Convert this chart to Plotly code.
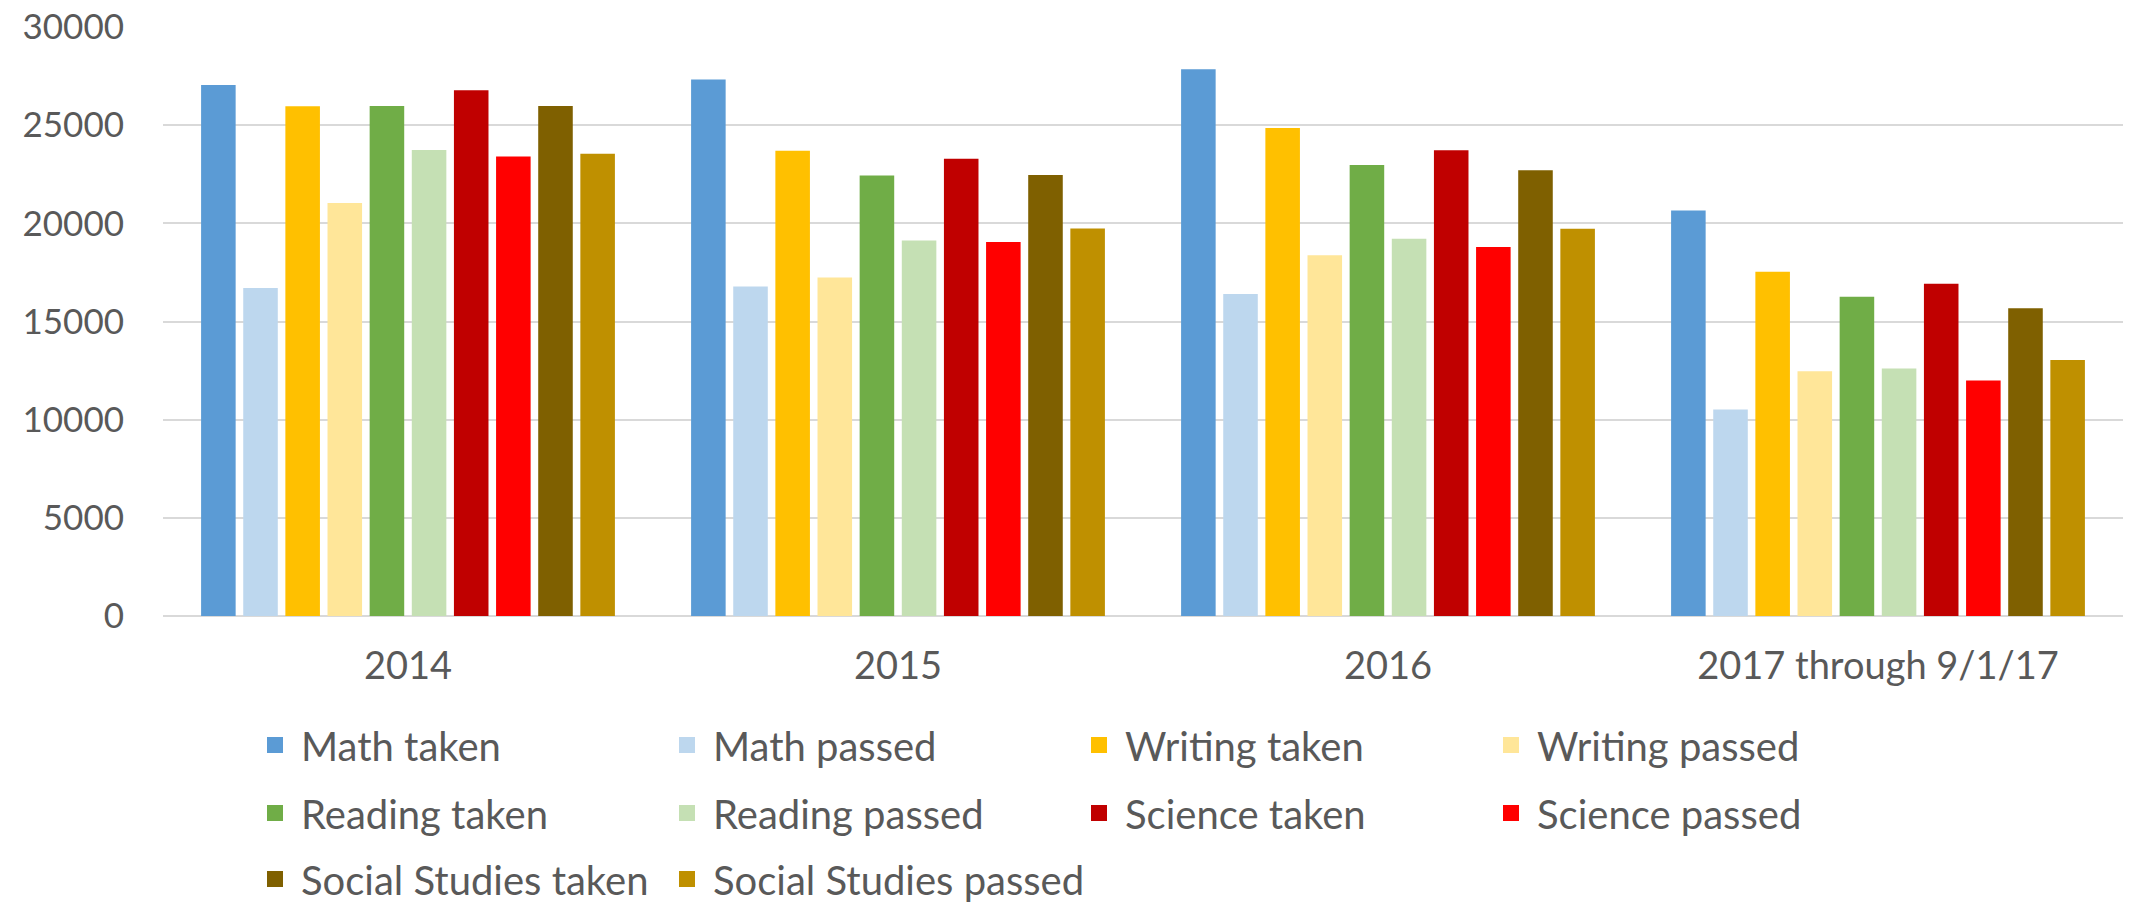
import plotly.graph_objects as go

categories = ["2014", "2015", "2016", "2017 through 9/1/17"]

series_names = [
    "Math taken", "Math passed", "Writing taken", "Writing passed",
    "Reading taken", "Reading passed", "Science taken", "Science passed",
    "Social Studies taken", "Social Studies passed",
]

math_taken = [27050, 27320, 27850, 20660]
math_passed = [16700, 16780, 16400, 10520]
writing_taken = [25960, 23700, 24850, 17530]
writing_passed = [21030, 17240, 18370, 12470]
reading_taken = [25980, 22440, 22970, 16260]
reading_passed = [23730, 19120, 19210, 12610]
science_taken = [26780, 23290, 23720, 16920]
science_passed = [23410, 19050, 18800, 12000]
social_taken = [25980, 22460, 22700, 15670]
social_passed = [23540, 19740, 19730, 13040]

series_values = [
    math_taken, math_passed, writing_taken, writing_passed,
    reading_taken, reading_passed, science_taken, science_passed,
    social_taken, social_passed,
]

colors = [
    "#5B9BD5", "#BDD7EE", "#FFC000", "#FFE699",
    "#70AD47", "#C5E0B4", "#C00000", "#FF0000",
    "#7F6000", "#BF9000",
]

y_ticks = [0, 5000, 10000, 15000, 20000, 25000, 30000]

FONT = "Lato, Calibri, Carlito, sans-serif"
TXT = "#595959"

fig = go.Figure()
for name, vals, col in zip(series_names, series_values, colors):
    fig.add_trace(go.Bar(
        x=categories, y=vals, name=name, marker_color=col,
        marker_line_width=0, showlegend=False,
    ))

rows = [["legend"] * 4, ["legend2"] * 4, ["legend3"] * 2]
leg_assign = [lid for r in rows for lid in r]
for i, (name, col, lid) in enumerate(zip(series_names, colors, leg_assign)):
    extra = {}
    if i == len(series_names) - 1:
        extra["legendwidth"] = 440
    fig.add_trace(go.Scatter(
        x=[None], y=[None], mode="markers", name=name, legend=lid,
        marker=dict(symbol="square", size=18, color=col),
        showlegend=True, hoverinfo="skip", **extra,
    ))

W, H = 2131, 903
plot_top, plot_bottom, plot_left, plot_right = 27, 616, 163, 2123
pw = plot_right - plot_left

def leg(ycenter_px):
    return dict(
        orientation="h", x=(249 - plot_left) / pw, xanchor="left",
        yref="container", y=1 - ycenter_px / H, yanchor="middle",
        font=dict(family=FONT, size=40, color=TXT),
        entrywidth=355, entrywidthmode="pixels", itemwidth=42,
        bgcolor="rgba(0,0,0,0)", borderwidth=0, itemclick=False,
    )

fig.update_layout(
    width=W, height=H,
    margin=dict(l=plot_left, r=W - plot_right, t=plot_top, b=H - plot_bottom),
    paper_bgcolor="white", plot_bgcolor="white",
    barmode="group", bargap=0.14, bargroupgap=0.18,
    font=dict(family=FONT, size=34, color=TXT),
    legend=leg(745), legend2=leg(813), legend3=leg(879),
    xaxis=dict(
        type="category", showgrid=False, showline=False, ticks="",
        tickfont=dict(family=FONT, size=38, color=TXT),
        ticklabelstandoff=24, zeroline=False, automargin=False,
    ),
    yaxis=dict(
        range=[0, 30000], tickvals=y_ticks, tickformat="d",
        showgrid=True, gridcolor="#D9D9D9", gridwidth=2,
        zeroline=True, zerolinecolor="#D9D9D9", zerolinewidth=2,
        showline=False, ticks="", automargin=False,
        tickfont=dict(family=FONT, size=35, color=TXT),
        ticklabelstandoff=38,
    ),
)

fig.write_html(
    "out.html",
    config={"displayModeBar": False},
    post_script="document.body.style.margin='0';document.body.style.overflow='hidden';",
)
